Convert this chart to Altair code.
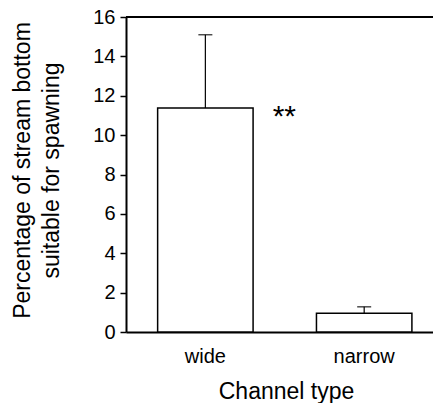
import altair as alt
import pandas as pd

channel = ["wide", "narrow"]
mean_pct = [11.38, 0.95]
upper_pct = [15.10, 1.28]
signif = ["**", ""]
y_ticks = [0, 2, 4, 6, 8, 10, 12, 14, 16]

df = pd.DataFrame({"channel": channel, "mean": mean_pct, "upper": upper_pct, "sig": signif})

FONT = "Liberation Sans"

x_axis = alt.Axis(
    title="Channel type",
    labelAngle=0,
    labelFontSize=20,
    labelFont=FONT,
    labelColor="black",
    labelPadding=14,
    ticks=False,
    domainColor="black",
    domainWidth=2,
    titleFont=FONT,
    titleFontSize=23,
    titleFontWeight="normal",
    titleColor="black",
    titleBaseline="alphabetic",
    titleX=160,
    titleY=66,
)

y_axis = alt.Axis(
    values=y_ticks,
    title=["Percentage of stream bottom", "suitable for spawning"],
    grid=False,
    labelOverlap=False,
    labelFontSize=20,
    labelFont=FONT,
    labelColor="black",
    labelPadding=5,
    tickSize=6,
    tickColor="black",
    tickWidth=1.5,
    domainColor="black",
    domainWidth=2,
    titleFont=FONT,
    titleFontSize=23,
    titleFontWeight="normal",
    titleColor="black",
    titleAngle=270,
    titleAlign="center",
    titleBaseline="alphabetic",
    titleLineHeight=29,
    titleX=-97,
    titleY=153,
)

x_scale = alt.Scale(paddingInner=0.399, paddingOuter=0.166, align=0.6)
y_scale = alt.Scale(domain=[0, 16], nice=False)


def X():
    return alt.X("channel:N", sort=channel, scale=x_scale, axis=x_axis)


def Y(field):
    return alt.Y(field, scale=y_scale, axis=y_axis)


bars = alt.Chart(df).mark_bar(fill="white", stroke="black", strokeWidth=1.5).encode(
    x=X(), y=Y("mean:Q")
)

err = alt.Chart(df).mark_rule(color="black", strokeWidth=1.2).encode(
    x=X(), y=Y("mean:Q"), y2="upper:Q"
)

caps = alt.Chart(df).mark_tick(color="black", thickness=1.5, size=14).encode(
    x=X(), y=Y("upper:Q")
)

stars = alt.Chart(df).mark_text(
    font=FONT, fontSize=30, color="black", align="center", baseline="alphabetic", dx=79, dy=18
).encode(x=X(), y=Y("mean:Q"), text="sig:N")

top_line = alt.Chart(df).mark_rule(color="black", strokeWidth=2).encode(
    y=alt.datum(16, scale=y_scale, axis=y_axis)
)

chart = (
    alt.layer(bars, err, caps, stars, top_line)
    .properties(
        width=307,
        height=315,
        autosize=alt.AutoSizeParams(type="none"),
        padding={"left": 126, "top": 17, "right": 0, "bottom": 71},
    )
    .configure_view(stroke=None)
    .configure(background="white")
)

chart.save("out.html", embed_options={"renderer": "svg", "actions": False})
